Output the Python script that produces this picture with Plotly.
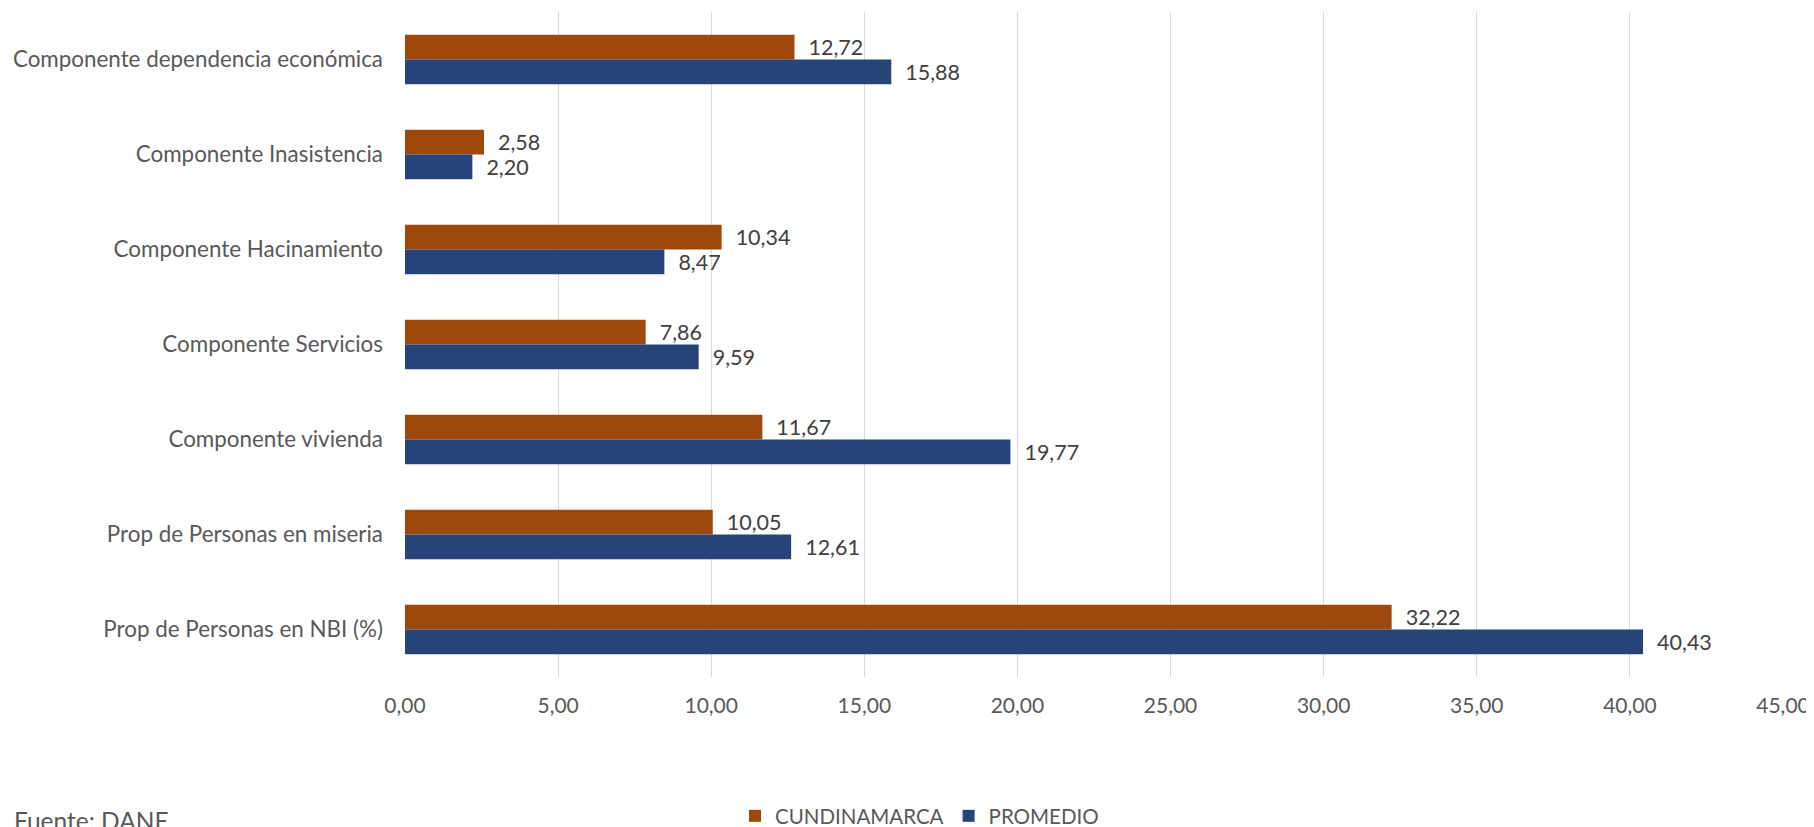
import plotly.graph_objects as go

categories = [
    "Componente dependencia económica",
    "Componente Inasistencia",
    "Componente Hacinamiento",
    "Componente Servicios",
    "Componente vivienda",
    "Prop de Personas en miseria",
    "Prop de Personas en NBI (%)",
]
cundinamarca = [12.72, 2.58, 10.34, 7.86, 11.67, 10.05, 32.22]
promedio = [15.88, 2.20, 8.47, 9.59, 19.77, 12.61, 40.43]
series_names = ["CUNDINAMARCA", "PROMEDIO"]
tick_vals = [0, 5, 10, 15, 20, 25, 30, 35, 40, 45]
source_text = "Fuente: DANE"

FONT = "Lato"
W, H = 1814, 827
# page body adds an 8px offset; layout numbers below are in figure pixels
ML, MR, MT, MB = 397, 39, 4, 158
PW, PH = W - ML - MR, H - MT - MB
PB = H - MB  # plot bottom in figure pixels

fig = go.Figure()
for name, vals, color in [
    (series_names[0], cundinamarca, "#9E480E"),
    (series_names[1], promedio, "#264478"),
]:
    fig.add_trace(go.Bar(
        y=categories, x=vals, name=name, orientation="h",
        marker=dict(color=color, line=dict(width=0)),
        texttemplate="\u00a0\u00a0%{x:.2f}",
        textposition="outside",
        textfont=dict(family=FONT, size=21.5, color="#404040"),
        constraintext="none",
        cliponaxis=False,
        hoverinfo="skip",
    ))

fig.update_layout(
    width=W, height=H,
    margin=dict(l=ML, r=MR, t=MT, b=MB, autoexpand=False),
    paper_bgcolor="white", plot_bgcolor="white",
    barmode="group", bargap=0.48, bargroupgap=0,
    separators=",.",
    font=dict(family=FONT, size=22, color="#595959"),
    showlegend=True,
    legend=dict(
        orientation="h", x=(727 - ML) / PW, xanchor="left",
        y=-(808 - PB) / PH, yanchor="middle",
        font=dict(family=FONT, size=20.5, color="#595959"),
        traceorder="normal", itemwidth=30, tracegroupgap=0,
        bgcolor="rgba(0,0,0,0)",
    ),
    xaxis=dict(
        range=[0, 45], tickvals=tick_vals, tickformat=".2f",
        showgrid=True, gridcolor="#D9D9D9", gridwidth=1,
        zeroline=False, showline=False, ticks="",
        ticklabelstandoff=14, automargin=False,
        tickfont=dict(family=FONT, size=21, color="#595959"),
        fixedrange=True,
    ),
    yaxis=dict(
        categoryorder="array", categoryarray=categories,
        autorange="reversed", showgrid=False, zeroline=False,
        showline=False, ticks="", ticklabelstandoff=21, automargin=False,
        tickfont=dict(family=FONT, size=22.4, color="#595959"),
        fixedrange=True,
    ),
    annotations=[dict(
        text=source_text, xref="paper", yref="paper",
        x=(4 - ML) / PW, xanchor="left",
        y=-(812 - PB) / PH, yanchor="middle",
        showarrow=False,
        font=dict(family=FONT, size=24.5, color="#595959"),
    )],
)

fig.write_html("out.html")
